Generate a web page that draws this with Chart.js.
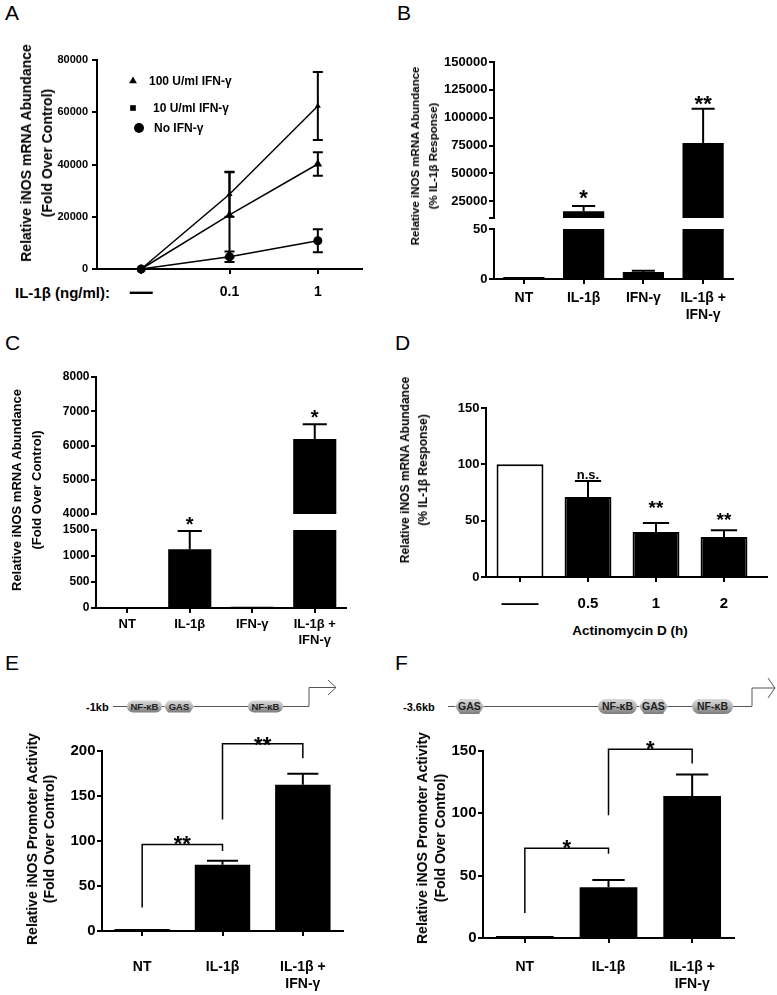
<!DOCTYPE html>
<html>
<head>
<meta charset="utf-8">
<title>iNOS figure</title>
<script src="https://cdn.jsdelivr.net/npm/chart.js@4.4.1/dist/chart.umd.min.js"></script>
<style>
  html, body { margin: 0; padding: 0; background: #fff; }
  body { position: relative; width: 777px; height: 995px; overflow: hidden; font-family: 'Liberation Sans', Arial, sans-serif; color: #000; }
  canvas { position: absolute; }
  .txt { position: absolute; white-space: nowrap; line-height: 1; }
  .letter { font-size: 21px; }
  .bold { font-weight: bold; }
  .ytitle { position: absolute; white-space: nowrap; text-align: center; font-weight: bold; transform: translate(-50%, -50%) rotate(-90deg); }
  svg { position: absolute; left: 0; top: 0; }
</style>
</head>
<body>
<div class="txt letter" style="left:5px;top:2px">A</div>
<div class="txt letter" style="left:397px;top:2px">B</div>
<div class="txt letter" style="left:5px;top:332px">C</div>
<div class="txt letter" style="left:395px;top:332px">D</div>
<div class="txt letter" style="left:5px;top:652px">E</div>
<div class="txt letter" style="left:395px;top:652px">F</div>

<div class="txt bold" style="left:15px;top:285px;font-size:15px">IL-1β (ng/ml):</div>
<div class="txt bold" style="left:630px;top:624px;font-size:13.5px;transform:translateX(-50%)">Actinomycin D (h)</div>

<svg width="777" height="995">
  <defs>
    <linearGradient id="pill" x1="0" y1="0" x2="0" y2="1">
      <stop offset="0" stop-color="#dadada"/>
      <stop offset="0.45" stop-color="#b9b9b9"/>
      <stop offset="1" stop-color="#7a7a7a"/>
    </linearGradient>
  </defs>
  <!-- E: -1kb promoter -->
  <g stroke="#555" stroke-width="1" fill="none">
    <polyline points="113,706.5 127,706.5"/>
    <polyline points="162,706.5 165,706.5"/>
    <polyline points="194,706.5 248,706.5"/>
    <polyline points="283,706.5 309,706.5 309,687.5 336,687.5"/>
    <polyline points="328,680 336,687.5 328,695"/>
  </g>
  <rect x="127" y="700.5" width="35" height="12" rx="6" fill="url(#pill)"/>
  <polygon points="164,706.5 168,700.5 190,700.5 194,706.5 190,712.5 168,712.5" fill="url(#pill)"/>
  <rect x="248" y="700.5" width="35" height="12" rx="6" fill="url(#pill)"/>
  <g font-weight="bold" font-size="9.5" text-anchor="middle" fill="#222">
    <text x="144.5" y="710">NF-κB</text>
    <text x="179" y="710">GAS</text>
    <text x="265.5" y="710">NF-κB</text>
  </g>
  <text x="86" y="710.5" font-size="11" font-weight="bold">-1kb</text>

  <!-- F: -3.6kb promoter -->
  <g stroke="#555" stroke-width="1" fill="none">
    <polyline points="448,706.5 455,706.5"/>
    <polyline points="484,706.5 598,706.5"/>
    <polyline points="637,706.5 639,706.5"/>
    <polyline points="668,706.5 692,706.5"/>
    <polyline points="733,706.5 752,706.5 752,688 775,688"/>
    <polyline points="768,678 775,688 768,698"/>
  </g>
  <polygon points="455,706.5 460,699 479,699 484,706.5 479,714 460,714" fill="url(#pill)"/>
  <rect x="598" y="699" width="39" height="15" rx="7.5" fill="url(#pill)"/>
  <polygon points="639,706.5 644,699 663,699 668,706.5 663,714 644,714" fill="url(#pill)"/>
  <rect x="692" y="699" width="41" height="15" rx="7.5" fill="url(#pill)"/>
  <g font-weight="bold" font-size="10.5" text-anchor="middle" fill="#222">
    <text x="469.5" y="710.3">GAS</text>
    <text x="617.5" y="710.3">NF-κB</text>
    <text x="653.5" y="710.3">GAS</text>
    <text x="712.5" y="710.3">NF-κB</text>
  </g>
  <text x="403" y="710.5" font-size="11" font-weight="bold">-3.6kb</text>
</svg>

<script>
// ---------- data ----------
// A: dose response, line chart
const doseLabels = ['—', '0.1', '1'];
const seriesNames = ['100 U/ml IFN-γ', '10 U/ml IFN-γ', 'No IFN-γ'];
const ifn100Mean = [0, 28600, 62400];
const ifn100Sem = [0, 8600, 13000];
const ifn10Mean = [0, 20700, 40200];
const ifn10Sem = [0, 16300, 4500];
const noIfnMean = [0, 4700, 10800];
const noIfnSem = [0, 2000, 4400];
const aTicks = [0, 20000, 40000, 60000, 80000];

// B, C: four treatments, broken y axis
const treatLabels = ['NT', 'IL-1β', 'IFN-γ', ['IL-1β +', 'IFN-γ']];
const bMean = [1, 16000, 7, 77400];
const bSem = [0, 4800, 1.3, 30600];
const bMarks = ['', '*', '', '**'];
const bMarkAt = [0, 33100, 0, 116700];
const bUpperTicks = [10000, 25000, 50000, 75000, 100000, 125000, 150000];
const bLowerTicks = [0, 50];

const cMean = [1, 1130, 25, 6190];
const cSem = [0, 350, 0, 430];
const cMarks = ['', '*', '', '*'];
const cMarkAt = [0, 1690, 0, 6945];
const cUpperTicks = [4000, 5000, 6000, 7000, 8000];
const cLowerTicks = [0, 500, 1000, 1500];

// D: actinomycin D time course
const dLabels = ['——', '0.5', '1', '2'];
const dMean = [100, 71, 40, 35.5];
const dSem = [0, 14.3, 8, 6];
const dMarks = ['', 'n.s.', '**', '**'];
const dMarkAt = [0, 89.7, 65.6, 54.3];
const dTicks = [0, 50, 100, 150];

// E, F: promoter activity
const promLabels = ['NT', 'IL-1β', ['IL-1β +', 'IFN-γ']];
const eMean = [1, 73.7, 162.6];
const eSem = [0, 4.4, 12.2];
const eTicks = [0, 50, 100, 150, 200];
const eBrFrom = [0, 1];
const eBrTo = [1, 2];
const eBrTop = [96, 208];
const eBrLeftEnd = [26, 124];
const eBrRightEnd = [89, 192];
const eBrMark = ['**', '**'];
const eBrMarkAt = [103, 213];

const fMean = [1, 40.8, 114];
const fSem = [0, 5.8, 17.1];
const fTicks = [0, 50, 100, 150];
const fBrFrom = [0, 1];
const fBrTo = [1, 2];
const fBrTop = [72, 151.5];
const fBrLeftEnd = [20, 98.5];
const fBrRightEnd = [67.5, 140];
const fBrMark = ['*', '*'];
const fBrMarkAt = [76.5, 156];

// ---------- setup ----------
const FONT = "'Liberation Sans', Arial, sans-serif";
Chart.defaults.font.family = FONT;
Chart.defaults.font.weight = 'bold';
Chart.defaults.color = '#000';
Chart.defaults.animation = false;
Chart.defaults.plugins.legend.display = false;
Chart.defaults.plugins.tooltip.enabled = false;

function yTitle(lines, cx, cy, size, lh) {
  const d = document.createElement('div');
  d.className = 'ytitle';
  d.style.cssText = `left:${cx}px;top:${cy}px;font-size:${size}px;line-height:${lh}px`;
  d.innerHTML = lines.join('<br>');
  document.body.appendChild(d);
}

// error bars (SEM); one sided for bars, both sides for the line chart
const semBars = {
  id: 'semBars',
  afterDatasetsDraw(chart, args, opts) {
    const { ctx, chartArea: a, scales: { y } } = chart;
    ctx.save();
    ctx.beginPath();
    ctx.rect(a.left - 10, a.top - 1, a.right - a.left + 20, a.bottom - a.top + 2);
    ctx.clip();
    ctx.strokeStyle = '#000';
    ctx.lineWidth = opts.width || 2;
    chart.data.datasets.forEach((ds, di) => {
      if (!ds.sem) return;
      chart.getDatasetMeta(di).data.forEach((el, i) => {
        const e = ds.sem[i];
        if (!e) return;
        const v = ds.data[i];
        const half = opts.cap != null ? opts.cap : el.width * 0.28;
        const hi = y.getPixelForValue(v + e);
        const lo = y.getPixelForValue(opts.both ? v - e : v);
        ctx.beginPath();
        ctx.moveTo(el.x, lo);
        ctx.lineTo(el.x, hi);
        ctx.moveTo(el.x - half, hi);
        ctx.lineTo(el.x + half, hi);
        if (opts.both) {
          ctx.moveTo(el.x - half, lo);
          ctx.lineTo(el.x + half, lo);
        }
        ctx.stroke();
      });
    });
    ctx.restore();
  }
};

// significance marks placed by category index and value
const starMarks = {
  id: 'starMarks',
  afterDatasetsDraw(chart, args, opts) {
    const { ctx, scales: { x, y } } = chart;
    ctx.save();
    ctx.fillStyle = '#000';
    ctx.textAlign = 'center';
    ctx.textBaseline = 'alphabetic';
    (opts.items || []).forEach(m => {
      const ns = m.text === 'n.s.';
      const size = ns ? opts.nsSize : opts.size;
      ctx.font = `bold ${size}px ${FONT}`;
      ctx.fillText(m.text, x.getPixelForValue(m.x), y.getPixelForValue(m.y) + size * (ns ? 0.27 : 0.56));
    });
    ctx.restore();
  }
};

const brackets = {
  id: 'brackets',
  afterDatasetsDraw(chart, args, opts) {
    const { ctx, scales: { x, y } } = chart;
    ctx.save();
    ctx.strokeStyle = '#000';
    ctx.lineWidth = 1.5;
    ctx.fillStyle = '#000';
    ctx.textAlign = 'center';
    ctx.font = `bold ${opts.size}px ${FONT}`;
    opts.from.forEach((f, i) => {
      const x1 = x.getPixelForValue(f), x2 = x.getPixelForValue(opts.to[i]);
      const yt = y.getPixelForValue(opts.top[i]);
      ctx.beginPath();
      ctx.moveTo(x1, y.getPixelForValue(opts.leftEnd[i]));
      ctx.lineTo(x1, yt);
      ctx.lineTo(x2, yt);
      ctx.lineTo(x2, y.getPixelForValue(opts.rightEnd[i]));
      ctx.stroke();
      ctx.fillText(opts.mark[i], x.getPixelForValue((f + opts.to[i]) / 2), y.getPixelForValue(opts.markAt[i]) + opts.size * 0.56);
    });
    ctx.restore();
  }
};

// legend of panel A drawn inside the plot
const keyA = {
  id: 'keyA',
  afterDraw(chart, args, opts) {
    const { ctx, chartArea: a } = chart;
    ctx.save();
    ctx.fillStyle = '#000';
    ctx.textBaseline = 'middle';
    ctx.font = `bold ${opts.size}px ${FONT}`;
    chart.data.datasets.forEach((ds, i) => {
      const it = opts.items[i];
      Chart.helpers.drawPoint(ctx, { pointStyle: it.style, radius: it.r, rotation: 0, borderWidth: 0 }, a.left + it.mx, a.top + it.y);
      ctx.fillText(ds.label, a.left + it.tx, a.top + it.y + 0.5);
    });
    ctx.restore();
  }
};

const axisTail = {
  id: 'axisTail',
  afterDraw(chart, args, opts) {
    const { ctx, chartArea: a } = chart;
    const yy = chart.scales.x.top;
    ctx.save();
    ctx.strokeStyle = '#000';
    ctx.lineWidth = 2;
    ctx.beginPath();
    ctx.moveTo(a.right - 1, yy);
    ctx.lineTo(a.right + opts.px, yy);
    ctx.stroke();
    ctx.restore();
  }
};

function yScale(min, max, values, size, pad, blank) {
  return {
    min, max,
    afterBuildTicks: s => { s.ticks = values.map(v => ({ value: v })); },
    ticks: { font: { size }, padding: pad, callback: v => (blank && blank.includes(v)) ? '' : String(v) },
    grid: { drawOnChartArea: false, tickLength: 5, color: '#000', lineWidth: 2 },
    border: { color: '#000', width: 2 }
  };
}

function xScale(font, pad) {
  return {
    offset: true,
    ticks: { font, padding: pad, autoSkip: false, maxRotation: 0, minRotation: 0 },
    grid: { offset: false, drawOnChartArea: false, tickLength: 5, color: '#000', lineWidth: 2 },
    border: { color: '#000', width: 2 }
  };
}

function barSet(mean, sem, extra) {
  return Object.assign({
    data: mean, sem,
    backgroundColor: '#000', borderColor: '#000', borderWidth: 0,
    barPercentage: 0.69, categoryPercentage: 1, clip: 0
  }, extra || {});
}

function marksOf(marks, at, keep) {
  return marks.map((t, i) => ({ x: i, y: at[i], text: t })).filter(m => m.text && keep(m));
}

// canvas placed so that the chart area lands on plot {l,t,r,b} (page px)
function place(plot, yW, xH, config) {
  const padT = 30, padR = 30, padB = 10;
  const left = plot.l - yW, top = plot.t - padT;
  const w = plot.r + padR - left, h = plot.b + xH + padB - top;
  const cv = document.createElement('canvas');
  cv.width = w; cv.height = h;
  Object.assign(cv.style, { left: left + 'px', top: top + 'px', width: w + 'px', height: h + 'px' });
  document.body.appendChild(cv);
  const o = config.options;
  o.responsive = false;
  o.maintainAspectRatio = false;
  o.layout = { padding: { left: 0, top: padT, right: padR, bottom: padB } };
  o.scales.y.afterFit = s => { s.width = yW; };
  if (o.scales.x.display !== false) o.scales.x.afterFit = s => { s.height = xH; };
  return new Chart(cv, config);
}

// ---------- A ----------
function lineSet(label, mean, sem, style, r) {
  return {
    label, data: mean, sem,
    borderColor: '#000', backgroundColor: '#000', borderWidth: 1.5,
    pointStyle: style, pointRadius: r, pointBackgroundColor: '#000', pointBorderWidth: 0,
    tension: 0, clip: false
  };
}
place({ l: 97, t: 60, r: 362, b: 269 }, 70, 40, {
  type: 'line',
  data: {
    labels: doseLabels,
    datasets: [
      lineSet(seriesNames[0], ifn100Mean, ifn100Sem, 'triangle', 3.5),
      lineSet(seriesNames[1], ifn10Mean, ifn10Sem, 'triangle', 5),
      lineSet(seriesNames[2], noIfnMean, noIfnSem, 'circle', 4.5)
    ]
  },
  options: {
    scales: {
      x: xScale(c => c.index === 0 ? { size: 23, lineHeight: 16.8 / 23 } : { size: 14 }, 10),
      y: yScale(0, 80000, aTicks, 11, 4)
    },
    plugins: {
      semBars: { both: true, cap: 5 },
      keyA: {
        size: 12,
        items: [
          { style: 'triangle', r: 4.5, mx: 36, tx: 52, y: 21 },
          { style: 'rect', r: 4, mx: 36, tx: 56, y: 48 },
          { style: 'circle', r: 5, mx: 42, tx: 57, y: 68 }
        ]
      }
    }
  },
  plugins: [semBars, keyA]
});
yTitle(['Relative iNOS mRNA Abundance', '(Fold Over  Control)'], 36.5, 153, 14, 21);

// ---------- B ----------
place({ l: 494, t: 62, r: 733, b: 218 }, 80, 0, {
  type: 'bar',
  data: { labels: treatLabels, datasets: [barSet(bMean, bSem)] },
  options: {
    scales: { x: { display: false, offset: true }, y: yScale(10000, 150000, bUpperTicks, 13, 1.5, [10000]) },
    plugins: { semBars: {}, starMarks: { size: 22, items: marksOf(bMarks, bMarkAt, () => true) } }
  },
  plugins: [semBars, starMarks]
});
place({ l: 494, t: 229, r: 733, b: 279 }, 80, 60, {
  type: 'bar',
  data: { labels: treatLabels, datasets: [barSet(bMean, bSem, { minBarLength: 2 })] },
  options: {
    scales: { x: xScale({ size: 14 }, 5.5), y: yScale(0, 50, bLowerTicks, 13, 1.5) },
    plugins: { semBars: {} }
  },
  plugins: [semBars]
});
yTitle(['Relative iNOS mRNA Abundance', '(% IL-1β Response)'], 424, 156, 11.5, 18);

// ---------- C ----------
place({ l: 96, t: 377, r: 346, b: 514 }, 70, 0, {
  type: 'bar',
  data: { labels: treatLabels, datasets: [barSet(cMean, cSem)] },
  options: {
    scales: { x: { display: false, offset: true }, y: yScale(4000, 8000, cUpperTicks, 12, 1.5) },
    plugins: { semBars: {}, starMarks: { size: 20, items: marksOf(cMarks, cMarkAt, m => m.y >= 4000) } }
  },
  plugins: [semBars, starMarks]
});
place({ l: 96, t: 530, r: 346, b: 608 }, 70, 60, {
  type: 'bar',
  data: { labels: treatLabels, datasets: [barSet(cMean, cSem)] },
  options: {
    scales: { x: xScale({ size: 13 }, 4), y: yScale(0, 1500, cLowerTicks, 12, 1.5) },
    plugins: { semBars: {}, starMarks: { size: 20, items: marksOf(cMarks, cMarkAt, m => m.y < 4000) } }
  },
  plugins: [semBars, starMarks]
});
yTitle(['Relative iNOS mRNA Abundance', '(Fold Over  Control)'], 27, 490, 13, 20);

// ---------- D ----------
place({ l: 486, t: 408, r: 758, b: 577 }, 70, 60, {
  type: 'bar',
  data: {
    labels: dLabels,
    datasets: [barSet(dMean, dSem, { backgroundColor: ['#fff', '#000', '#000', '#000'], borderWidth: 2, borderSkipped: 'start' })]
  },
  options: {
    scales: {
      x: xScale(c => c.index === 0 ? { size: 18.5, lineHeight: 18 / 18.5 } : { size: 15 }, 13),
      y: yScale(0, 150, dTicks, 13, 1.5)
    },
    plugins: { semBars: {}, starMarks: { size: 19, nsSize: 13, items: marksOf(dMarks, dMarkAt, () => true) }, axisTail: { px: 10 } }
  },
  plugins: [semBars, starMarks, axisTail]
});
yTitle(['Relative iNOS mRNA Abundance', '(% IL-1β Response)'], 414, 470, 12, 18);

// ---------- E ----------
place({ l: 102, t: 751, r: 343, b: 931 }, 70, 60, {
  type: 'bar',
  data: { labels: promLabels, datasets: [barSet(eMean, eSem, { minBarLength: 2 })] },
  options: {
    scales: { x: xScale({ size: 14 }, 22.5), y: yScale(0, 200, eTicks, 15, 1.5) },
    plugins: {
      semBars: {},
      brackets: { size: 22, from: eBrFrom, to: eBrTo, top: eBrTop, leftEnd: eBrLeftEnd, rightEnd: eBrRightEnd, mark: eBrMark, markAt: eBrMarkAt }
    }
  },
  plugins: [semBars, brackets]
});
yTitle(['Relative iNOS Promoter Activity', '(Fold Over Control)'], 40.5, 839, 14, 17);

// ---------- F ----------
place({ l: 483, t: 751, r: 734, b: 938 }, 70, 60, {
  type: 'bar',
  data: { labels: promLabels, datasets: [barSet(fMean, fSem, { minBarLength: 2 })] },
  options: {
    scales: { x: xScale({ size: 14 }, 15.5), y: yScale(0, 150, fTicks, 15, 1.5) },
    plugins: {
      semBars: {},
      brackets: { size: 22, from: fBrFrom, to: fBrTo, top: fBrTop, leftEnd: fBrLeftEnd, rightEnd: fBrRightEnd, mark: fBrMark, markAt: fBrMarkAt }
    }
  },
  plugins: [semBars, brackets]
});
yTitle(['Relative iNOS Promoter Activity', '(Fold Over Control)'], 431, 838, 14, 18);
</script>
</body>
</html>
